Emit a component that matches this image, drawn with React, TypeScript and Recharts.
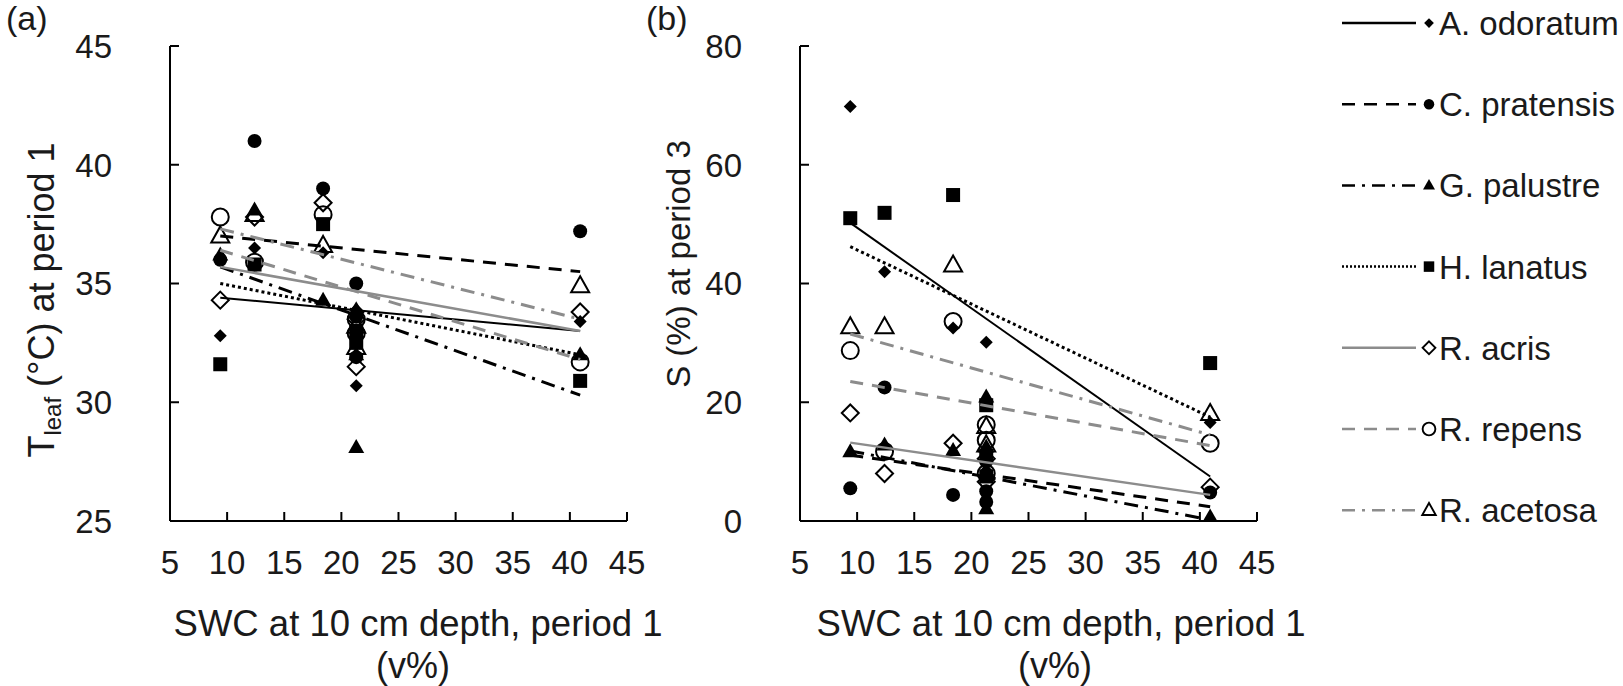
import React from 'react';
import { ComposedChart, Scatter, XAxis, YAxis } from 'recharts';

type Pt = { x: number; y: number };

const speciesNames = ['A. odoratum', 'C. pratensis', 'G. palustre', 'H. lanatus', 'R. acris', 'R. repens', 'R. acetosa'];
const xTicks = [5, 10, 15, 20, 25, 30, 35, 40, 45];
const yTicksA = [25, 30, 35, 40, 45];
const yTicksB = [0, 20, 40, 60, 80];

// Panel (a): T_leaf at period 1
const aOdoratumA: Pt[] = [{ x: 9.4, y: 32.8 }, { x: 12.4, y: 36.5 }, { x: 18.4, y: 36.3 }, { x: 21.3, y: 33.9 }, { x: 21.3, y: 30.7 }, { x: 40.9, y: 33.4 }];
const cPratensisA: Pt[] = [{ x: 9.4, y: 36.0 }, { x: 12.4, y: 41.0 }, { x: 18.4, y: 39.0 }, { x: 21.3, y: 35.0 }, { x: 21.3, y: 33.6 }, { x: 21.3, y: 31.9 }, { x: 40.9, y: 37.2 }];
const gPalustreA: Pt[] = [{ x: 9.4, y: 36.2 }, { x: 12.4, y: 38.1 }, { x: 18.4, y: 34.3 }, { x: 21.3, y: 33.9 }, { x: 21.3, y: 32.0 }, { x: 21.3, y: 28.1 }, { x: 40.9, y: 32.0 }];
const hLanatusA: Pt[] = [{ x: 9.4, y: 31.6 }, { x: 12.4, y: 35.8 }, { x: 18.4, y: 37.5 }, { x: 21.3, y: 33.0 }, { x: 21.3, y: 32.5 }, { x: 40.9, y: 30.9 }];
const rAcrisA: Pt[] = [{ x: 9.4, y: 34.3 }, { x: 12.4, y: 37.8 }, { x: 18.4, y: 38.4 }, { x: 21.3, y: 33.5 }, { x: 21.3, y: 31.5 }, { x: 40.9, y: 33.8 }];
const rRepensA: Pt[] = [{ x: 9.4, y: 37.8 }, { x: 12.4, y: 35.9 }, { x: 18.4, y: 37.9 }, { x: 21.3, y: 33.5 }, { x: 21.3, y: 32.9 }, { x: 40.9, y: 31.7 }];
const rAcetosaA: Pt[] = [{ x: 9.4, y: 37.0 }, { x: 12.4, y: 37.9 }, { x: 18.4, y: 36.6 }, { x: 21.3, y: 33.2 }, { x: 21.3, y: 32.3 }, { x: 40.9, y: 34.9 }];

// Panel (a) trend lines (start / end)
const trendA: Pt[][] = [
  [{ x: 9.4, y: 34.4 }, { x: 40.9, y: 33.0 }],
  [{ x: 9.4, y: 37.0 }, { x: 40.9, y: 35.5 }],
  [{ x: 9.4, y: 35.7 }, { x: 40.9, y: 30.3 }],
  [{ x: 9.4, y: 35.0 }, { x: 40.9, y: 32.0 }],
  [{ x: 9.4, y: 35.7 }, { x: 40.9, y: 33.0 }],
  [{ x: 9.4, y: 36.4 }, { x: 40.9, y: 31.8 }],
  [{ x: 9.4, y: 37.3 }, { x: 40.9, y: 33.5 }],
];

// Panel (b): S (%) at period 3
const aOdoratumB: Pt[] = [{ x: 9.4, y: 69.8 }, { x: 12.4, y: 42.0 }, { x: 18.4, y: 32.5 }, { x: 21.3, y: 30.1 }, { x: 21.3, y: 8.5 }, { x: 40.9, y: 16.6 }];
const cPratensisB: Pt[] = [{ x: 9.4, y: 5.5 }, { x: 12.4, y: 22.5 }, { x: 18.4, y: 4.4 }, { x: 21.3, y: 10.0 }, { x: 21.3, y: 5.0 }, { x: 21.3, y: 3.2 }, { x: 40.9, y: 4.8 }];
const gPalustreB: Pt[] = [{ x: 9.4, y: 11.7 }, { x: 12.4, y: 12.8 }, { x: 18.4, y: 11.9 }, { x: 21.3, y: 20.9 }, { x: 21.3, y: 12.5 }, { x: 21.3, y: 2.1 }, { x: 40.9, y: 0.7 }];
const hLanatusB: Pt[] = [{ x: 9.4, y: 51.0 }, { x: 12.4, y: 51.9 }, { x: 18.4, y: 54.9 }, { x: 21.3, y: 19.5 }, { x: 21.3, y: 11.0 }, { x: 21.3, y: 7.5 }, { x: 40.9, y: 26.6 }];
const rAcrisB: Pt[] = [{ x: 9.4, y: 18.2 }, { x: 12.4, y: 8.0 }, { x: 18.4, y: 13.1 }, { x: 21.3, y: 10.5 }, { x: 21.3, y: 6.6 }, { x: 40.9, y: 5.7 }];
const rRepensB: Pt[] = [{ x: 9.4, y: 28.7 }, { x: 12.4, y: 11.7 }, { x: 18.4, y: 33.6 }, { x: 21.3, y: 16.2 }, { x: 21.3, y: 13.6 }, { x: 21.3, y: 8.0 }, { x: 40.9, y: 13.1 }];
const rAcetosaB: Pt[] = [{ x: 9.4, y: 32.7 }, { x: 12.4, y: 32.7 }, { x: 18.4, y: 43.1 }, { x: 21.3, y: 15.9 }, { x: 21.3, y: 12.8 }, { x: 40.9, y: 18.1 }];

const trendB: Pt[][] = [
  [{ x: 9.4, y: 50.2 }, { x: 40.9, y: 7.5 }],
  [{ x: 9.4, y: 11.1 }, { x: 40.9, y: 2.4 }],
  [{ x: 9.4, y: 11.8 }, { x: 40.9, y: 0.2 }],
  [{ x: 9.4, y: 46.2 }, { x: 40.9, y: 17.5 }],
  [{ x: 9.4, y: 13.2 }, { x: 40.9, y: 4.4 }],
  [{ x: 9.4, y: 23.5 }, { x: 40.9, y: 12.7 }],
  [{ x: 9.4, y: 31.5 }, { x: 40.9, y: 14.5 }],
];

const pointsA = [aOdoratumA, cPratensisA, gPalustreA, hLanatusA, rAcrisA, rRepensA, rAcetosaA];
const pointsB = [aOdoratumB, cPratensisB, gPalustreB, hLanatusB, rAcrisB, rRepensB, rAcetosaB];

// ---- styles ----
const FONT = '"Liberation Sans", Arial, sans-serif';
const TXT = '#1a1a1a';
const GRAY = '#8c8c8c';
const markerKinds = ['diamondF', 'circleF', 'triangleF', 'squareF', 'diamondO', 'circleO', 'triangleO'];
const lineStyles = [
  { stroke: '#000', dash: undefined as string | undefined, width: 2 },
  { stroke: '#000', dash: '13 9', width: 3 },
  { stroke: '#000', dash: '14 7 3 7', width: 3 },
  { stroke: '#000', dash: '3 3', width: 3 },
  { stroke: GRAY, dash: undefined as string | undefined, width: 2.5 },
  { stroke: GRAY, dash: '13 9', width: 3 },
  { stroke: GRAY, dash: '14 7 3 7', width: 3 },
];
const legendDash = [undefined, '13 9', '13 7 3 7', '2 2', undefined, '13 9', '13 7 3 7'];

function Marker({ cx, cy, kind, s = 1 }: { cx: number; cy: number; kind: string; s?: number }) {
  if (cx == null || cy == null) return <g />;
  const sw = 2 * Math.min(1, s + 0.2);
  switch (kind) {
    case 'diamondF': {
      const h = 6.5 * s;
      return <polygon points={`${cx},${cy - h} ${cx + h},${cy} ${cx},${cy + h} ${cx - h},${cy}`} fill="#000" />;
    }
    case 'circleF':
      return <circle cx={cx} cy={cy} r={7 * s} fill="#000" />;
    case 'triangleF': {
      const w = 8 * s;
      const hh = 14 * s;
      return <polygon points={`${cx},${cy - hh * 0.6} ${cx + w},${cy + hh * 0.4} ${cx - w},${cy + hh * 0.4}`} fill="#000" />;
    }
    case 'squareF': {
      const h = 7 * s;
      return <rect x={cx - h} y={cy - h} width={2 * h} height={2 * h} fill="#000" />;
    }
    case 'diamondO': {
      const h = 8.5 * s;
      return <polygon points={`${cx},${cy - h} ${cx + h},${cy} ${cx},${cy + h} ${cx - h},${cy}`} fill="none" stroke="#000" strokeWidth={sw} />;
    }
    case 'circleO':
      return <circle cx={cx} cy={cy} r={8.5 * s} fill="none" stroke="#000" strokeWidth={sw} />;
    case 'triangleO': {
      const w = 9 * s;
      const hh = 16 * s;
      return <polygon points={`${cx},${cy - hh * 0.6} ${cx + w},${cy + hh * 0.4} ${cx - w},${cy + hh * 0.4}`} fill="none" stroke="#000" strokeWidth={sw} />;
    }
    default:
      return <g />;
  }
}

const XTick = (props: any) => {
  const { x, y, payload } = props;
  return (
    <text x={x} y={y} dy="0.36em" textAnchor="middle" fontSize={33} fontFamily={FONT} fill={TXT}>
      {payload.value}
    </text>
  );
};
const YTick = (props: any) => {
  const { x, y, payload } = props;
  return (
    <text x={x - 28} y={y} dy="0.36em" textAnchor="end" fontSize={33} fontFamily={FONT} fill={TXT}>
      {payload.value}
    </text>
  );
};

const CH_W = 660;
const CH_H = 686;
const M = { top: 46, right: 33, bottom: 125, left: 110 };

function Panel({ points, trends, yDomain, yTicks }: { points: Pt[][]; trends: Pt[][]; yDomain: [number, number]; yTicks: number[] }) {
  return (
    <ComposedChart width={CH_W} height={CH_H} margin={M}>
      <XAxis
        dataKey="x"
        type="number"
        domain={[5, 45]}
        ticks={xTicks}
        interval={0}
        allowDataOverflow
        height={40}
        tickSize={-9}
        tickMargin={50}
        axisLine={{ stroke: '#000', strokeWidth: 2 }}
        tickLine={{ stroke: '#000', strokeWidth: 2 }}
        tick={XTick}
      />
      <YAxis
        dataKey="y"
        type="number"
        domain={yDomain}
        ticks={yTicks}
        interval={0}
        allowDataOverflow
        width={60}
        tickSize={-9}
        tickMargin={39}
        axisLine={{ stroke: '#000', strokeWidth: 2 }}
        tickLine={{ stroke: '#000', strokeWidth: 2 }}
        tick={YTick}
      />
      {points.map((pts, i) => (
        <Scatter
          key={`p${i}`}
          data={pts}
          isAnimationActive={false}
          fill="#000"
          shape={(p: any) => <Marker cx={p.cx} cy={p.cy} kind={markerKinds[i]} />}
        />
      ))}
      {trends.map((pts, i) => (
        <Scatter
          key={`t${i}`}
          data={pts}
          isAnimationActive={false}
          fill={lineStyles[i].stroke}
          line={{ stroke: lineStyles[i].stroke, strokeWidth: lineStyles[i].width, strokeDasharray: lineStyles[i].dash }}
          lineType="joint"
          shape={() => <g />}
        />
      ))}
    </ComposedChart>
  );
}

export default function App() {
  const rowY = (i: number) => 23 + i * 81.2;
  return (
    <div style={{ position: 'absolute', left: 0, top: 0, width: 1623, height: 686, background: '#fff', overflow: 'hidden' }}>
      <div style={{ position: 'absolute', left: 0, top: 0 }}>
        <Panel points={pointsA} trends={trendA} yDomain={[25, 45]} yTicks={yTicksA} />
      </div>
      <div style={{ position: 'absolute', left: 630, top: 0 }}>
        <Panel points={pointsB} trends={trendB} yDomain={[0, 80]} yTicks={yTicksB} />
      </div>
      <svg width={1623} height={686} style={{ position: 'absolute', left: 0, top: 0, pointerEvents: 'none' }}>
        <g fontFamily={FONT} fill={TXT}>
          <text x={6} y={30} fontSize={34}>(a)</text>
          <text x={646} y={30} fontSize={34}>(b)</text>
          <text transform="translate(54,300) rotate(-90)" textAnchor="middle" fontSize={36}>
            T<tspan fontSize={24} dy={7}>leaf</tspan>
            <tspan dy={-7}> (°C) at period 1</tspan>
          </text>
          <text transform="translate(690,264) rotate(-90)" textAnchor="middle" fontSize={33}>S (%) at period 3</text>
          <text x={418} y={636} textAnchor="middle" fontSize={36.5}>SWC at 10 cm depth, period 1</text>
          <text x={413} y={678} textAnchor="middle" fontSize={36}>(v%)</text>
          <text x={1061} y={636} textAnchor="middle" fontSize={36.5}>SWC at 10 cm depth, period 1</text>
          <text x={1055} y={678} textAnchor="middle" fontSize={36}>(v%)</text>
        </g>
        {speciesNames.map((name, i) => {
          const y = rowY(i);
          const ls = lineStyles[i];
          return (
            <g key={name}>
              <line x1={1342} x2={1416} y1={y} y2={y} stroke={ls.stroke} strokeWidth={2.5} strokeDasharray={legendDash[i]} />
              <Marker cx={1429} cy={y} kind={markerKinds[i]} s={0.75} />
              <text x={1439} y={y + 12} fontSize={33} fontFamily={FONT} fill={TXT}>{name}</text>
            </g>
          );
        })}
      </svg>
    </div>
  );
}
